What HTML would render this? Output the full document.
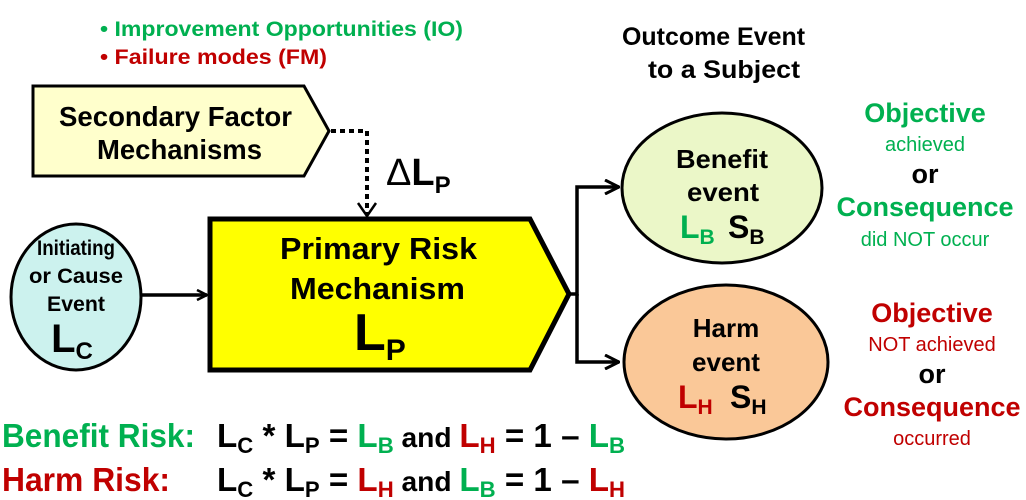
<!DOCTYPE html>
<html><head><meta charset="utf-8"><style>
html,body{margin:0;padding:0;background:#fff;}
svg{display:block;font-family:"Liberation Sans",Arial,sans-serif;font-weight:bold;}
</style></head><body>
<svg width="1026" height="500" viewBox="0 0 1026 500" xmlns="http://www.w3.org/2000/svg">
<defs>
<marker id="ah" viewBox="0 0 12 12" refX="11" refY="6" markerWidth="12" markerHeight="12" markerUnits="userSpaceOnUse" orient="auto">
<path d="M1,1 L11,6 L1,11" fill="none" stroke="#000" stroke-width="2.5"/>
</marker>
<marker id="ah2" viewBox="0 0 16 16" refX="15" refY="8" markerWidth="16" markerHeight="16" markerUnits="userSpaceOnUse" orient="auto">
<path d="M1,1 L15,8 L1,15" fill="none" stroke="#000" stroke-width="3"/>
</marker>
</defs>

<text x="100" y="36" font-size="21" fill="#00b050" textLength="363" lengthAdjust="spacingAndGlyphs">• Improvement Opportunities (IO)</text>
<text x="100" y="64" font-size="21" fill="#c00000" textLength="227" lengthAdjust="spacingAndGlyphs">• Failure modes (FM)</text>

<polygon points="33,86 304,86 329,131 304,176 33,176" fill="#ffffcc" stroke="#000" stroke-width="3"/>
<text x="59" y="126" font-size="28" textLength="233" lengthAdjust="spacingAndGlyphs">Secondary Factor</text>
<text x="97" y="159" font-size="28" textLength="165" lengthAdjust="spacingAndGlyphs">Mechanisms</text>

<path d="M331,131 H367 V214" fill="none" stroke="#000" stroke-width="4" stroke-dasharray="5,4"/>
<path d="M358,203 L367,216 L376,203" fill="none" stroke="#000" stroke-width="2.5"/>
<text x="386" y="185" font-size="38" font-weight="normal">Δ<tspan font-weight="bold">L</tspan><tspan font-size="24" dy="8" font-weight="bold">P</tspan></text>

<polygon points="210,219 530,219 569,294 530,370 210,370" fill="#ffff00" stroke="#000" stroke-width="5"/>
<text x="280" y="259" font-size="31" textLength="197" lengthAdjust="spacingAndGlyphs">Primary Risk</text>
<text x="290" y="299" font-size="31" textLength="175" lengthAdjust="spacingAndGlyphs">Mechanism</text>
<text x="354" y="350" font-size="52">L<tspan font-size="30" dy="10">P</tspan></text>

<ellipse cx="76" cy="297" rx="65" ry="73" fill="#ccf2ee" stroke="#000" stroke-width="3"/>
<text x="76" y="255" font-size="21" text-anchor="middle" textLength="78" lengthAdjust="spacingAndGlyphs">Initiating</text>
<text x="76" y="283" font-size="21" text-anchor="middle" textLength="94" lengthAdjust="spacingAndGlyphs">or Cause</text>
<text x="76" y="311" font-size="21" text-anchor="middle" textLength="58" lengthAdjust="spacingAndGlyphs">Event</text>
<text x="72" y="352" font-size="40" text-anchor="middle">L<tspan font-size="24" dy="7">C</tspan></text>
<line x1="141" y1="295" x2="207" y2="295" stroke="#000" stroke-width="3.5" marker-end="url(#ah)"/>

<path d="M569,294 H577 V187 H619" fill="none" stroke="#000" stroke-width="3.5" marker-end="url(#ah2)"/>
<path d="M577,294 V362 H619" fill="none" stroke="#000" stroke-width="3.5" marker-end="url(#ah2)"/>

<text x="622" y="45" font-size="25" textLength="183" lengthAdjust="spacingAndGlyphs">Outcome Event</text>
<text x="648" y="78" font-size="25" textLength="152" lengthAdjust="spacingAndGlyphs">to a Subject</text>

<ellipse cx="722" cy="188" rx="100" ry="75" fill="#ebf7c8" stroke="#000" stroke-width="3"/>
<text x="676" y="168" font-size="26" textLength="92" lengthAdjust="spacingAndGlyphs">Benefit</text>
<text x="687" y="201" font-size="26" textLength="72" lengthAdjust="spacingAndGlyphs">event</text>
<text x="680" y="238" font-size="32" fill="#00b050">L<tspan font-size="21" dy="6">B</tspan></text>
<text x="728" y="238" font-size="32">S<tspan font-size="21" dy="6">B</tspan></text>

<ellipse cx="726" cy="362" rx="102" ry="77" fill="#fac898" stroke="#000" stroke-width="3"/>
<text x="726" y="337" font-size="26" text-anchor="middle">Harm</text>
<text x="726" y="371" font-size="26" text-anchor="middle">event</text>
<text x="678" y="408" font-size="32" fill="#c00000">L<tspan font-size="21" dy="6">H</tspan></text>
<text x="730" y="408" font-size="32">S<tspan font-size="21" dy="6">H</tspan></text>

<g text-anchor="middle">
<text x="925" y="122" font-size="27" fill="#00b050">Objective</text>
<text x="925" y="151" font-size="20" fill="#00b050" font-weight="normal">achieved</text>
<text x="925" y="183" font-size="27">or</text>
<text x="925" y="216" font-size="27" fill="#00b050">Consequence</text>
<text x="925" y="246" font-size="20" fill="#00b050" font-weight="normal">did NOT occur</text>
<text x="932" y="322" font-size="27" fill="#c00000">Objective</text>
<text x="932" y="351" font-size="20" fill="#c00000" font-weight="normal">NOT achieved</text>
<text x="932" y="383" font-size="27">or</text>
<text x="932" y="416" font-size="27" fill="#c00000">Consequence</text>
<text x="932" y="445" font-size="20" fill="#c00000" font-weight="normal">occurred</text>
</g>

<text x="2" y="447" font-size="33" fill="#00b050" textLength="193" lengthAdjust="spacingAndGlyphs">Benefit Risk:</text>
<text x="217" y="447" font-size="33" textLength="408" lengthAdjust="spacingAndGlyphs">L<tspan font-size="22" dy="6">C</tspan><tspan dy="-6"> * L</tspan><tspan font-size="22" dy="6">P</tspan><tspan dy="-6"> = </tspan><tspan fill="#00b050">L</tspan><tspan font-size="22" dy="6" fill="#00b050">B</tspan><tspan dy="-6" font-size="28">  and </tspan><tspan fill="#c00000">L</tspan><tspan font-size="22" dy="6" fill="#c00000">H</tspan><tspan dy="-6"> = 1 – </tspan><tspan fill="#00b050">L</tspan><tspan font-size="22" dy="6" fill="#00b050">B</tspan></text>

<text x="2" y="491" font-size="33" fill="#c00000" textLength="168" lengthAdjust="spacingAndGlyphs">Harm Risk:</text>
<text x="217" y="491" font-size="33" textLength="408" lengthAdjust="spacingAndGlyphs">L<tspan font-size="22" dy="6">C</tspan><tspan dy="-6"> * L</tspan><tspan font-size="22" dy="6">P</tspan><tspan dy="-6"> = </tspan><tspan fill="#c00000">L</tspan><tspan font-size="22" dy="6" fill="#c00000">H</tspan><tspan dy="-6" font-size="28">  and </tspan><tspan fill="#00b050">L</tspan><tspan font-size="22" dy="6" fill="#00b050">B</tspan><tspan dy="-6"> = 1 – </tspan><tspan fill="#c00000">L</tspan><tspan font-size="22" dy="6" fill="#c00000">H</tspan></text>
</svg>
</body></html>
